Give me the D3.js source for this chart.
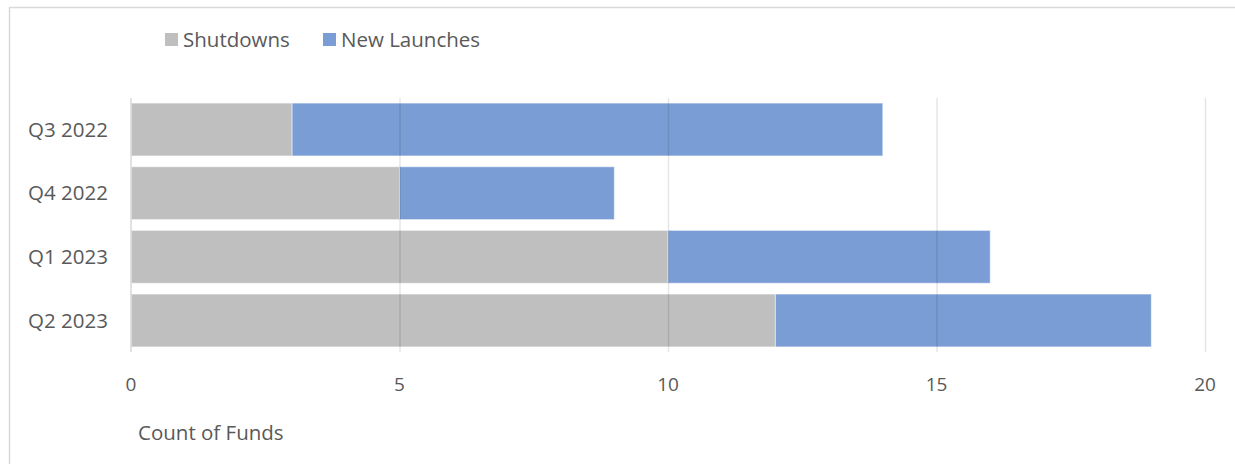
<!DOCTYPE html>
<html>
<head>
<meta charset="utf-8">
<script src="https://cdn.jsdelivr.net/npm/d3@7"></script>
<style>
  body { margin: 0; background: #fff; }
  text { font-family: "Open Sans", "Noto Sans", sans-serif; fill: #595959; }
</style>
</head>
<body>
<svg id="chart" width="1235" height="464"></svg>
<script>
const quarters = ["Q3 2022", "Q4 2022", "Q1 2023", "Q2 2023"];
const shutdowns = [3, 5, 10, 12];
const newLaunches = [11, 4, 6, 7];
const seriesNames = ["Shutdowns", "New Launches"];
const xTicks = [0, 5, 10, 15, 20];

const colors = ["#bfbfbf", "#7b9dd5"];
const margin = { top: 98, right: 30, bottom: 112, left: 131 };
const width = 1235;
const height = 464;

const svg = d3.select("#chart");

// outer frame
svg.append("rect")
  .attr("x", 9.5).attr("y", 7.5)
  .attr("width", 1240).attr("height", 470)
  .attr("fill", "none").attr("stroke", "#d9d9d9").attr("stroke-width", 1.5);

const data = quarters.map((q, i) => ({ q, Shutdowns: shutdowns[i], "New Launches": newLaunches[i] }));
const stack = d3.stack().keys(seriesNames)(data);

const x = d3.scaleLinear().domain([0, 20]).range([margin.left, 1205]);
const y = d3.scaleBand().domain(quarters).range([margin.top, 352]).paddingInner(0.17).paddingOuter(0.08);

const g = svg.append("g");

g.selectAll("g.series")
  .data(stack)
  .enter()
  .append("g")
  .attr("class", "series")
  .attr("fill", (d, i) => colors[i])
  .selectAll("rect")
  .data((d) => d)
  .enter()
  .append("rect")
  .attr("x", (d) => x(d[0]))
  .attr("y", (d) => y(d.data.q))
  .attr("width", (d) => x(d[1]) - x(d[0]))
  .attr("height", y.bandwidth())
  .attr("stroke", "rgba(255,255,255,0.5)")
  .attr("stroke-width", 1);

// gridlines on top of bars
g.selectAll("line.grid")
  .data(xTicks.slice(1))
  .enter()
  .append("line")
  .attr("x1", (d) => x(d) + 0.5).attr("x2", (d) => x(d) + 0.5)
  .attr("y1", margin.top).attr("y2", 352)
  .attr("stroke", "rgba(0,0,0,0.1)")
  .attr("stroke-width", 1.5);

// left axis line
g.append("line")
  .attr("x1", x(0)).attr("x2", x(0))
  .attr("y1", margin.top).attr("y2", 352)
  .attr("stroke", "#d9d9d9").attr("stroke-width", 1.5);

// x tick labels
g.selectAll("text.xt")
  .data(xTicks)
  .enter()
  .append("text")
  .attr("x", (d) => x(d))
  .attr("y", 391)
  .attr("text-anchor", "middle")
  .style("font-size", "19px")
  .text((d) => d);

// y labels
g.selectAll("text.yt")
  .data(quarters)
  .enter()
  .append("text")
  .attr("x", 108)
  .attr("y", (d) => y(d) + y.bandwidth() / 2)
  .attr("dy", "0.35em")
  .attr("text-anchor", "end")
  .style("font-size", "20.5px")
  .text((d) => d);

// axis title
svg.append("text")
  .attr("x", 138).attr("y", 440)
  .style("font-size", "20.5px")
  .text("Count of Funds");

// legend
const legendX = [165, 323];
const legend = svg.selectAll("g.legend")
  .data(seriesNames)
  .enter()
  .append("g")
  .attr("transform", (d, i) => `translate(${legendX[i]},33)`);
legend.append("rect")
  .attr("width", 13).attr("height", 13)
  .attr("fill", (d, i) => colors[i]);
legend.append("text")
  .attr("x", 18).attr("y", 14)
  .style("font-size", "20.5px")
  .text((d) => d);
</script>
</body>
</html>
